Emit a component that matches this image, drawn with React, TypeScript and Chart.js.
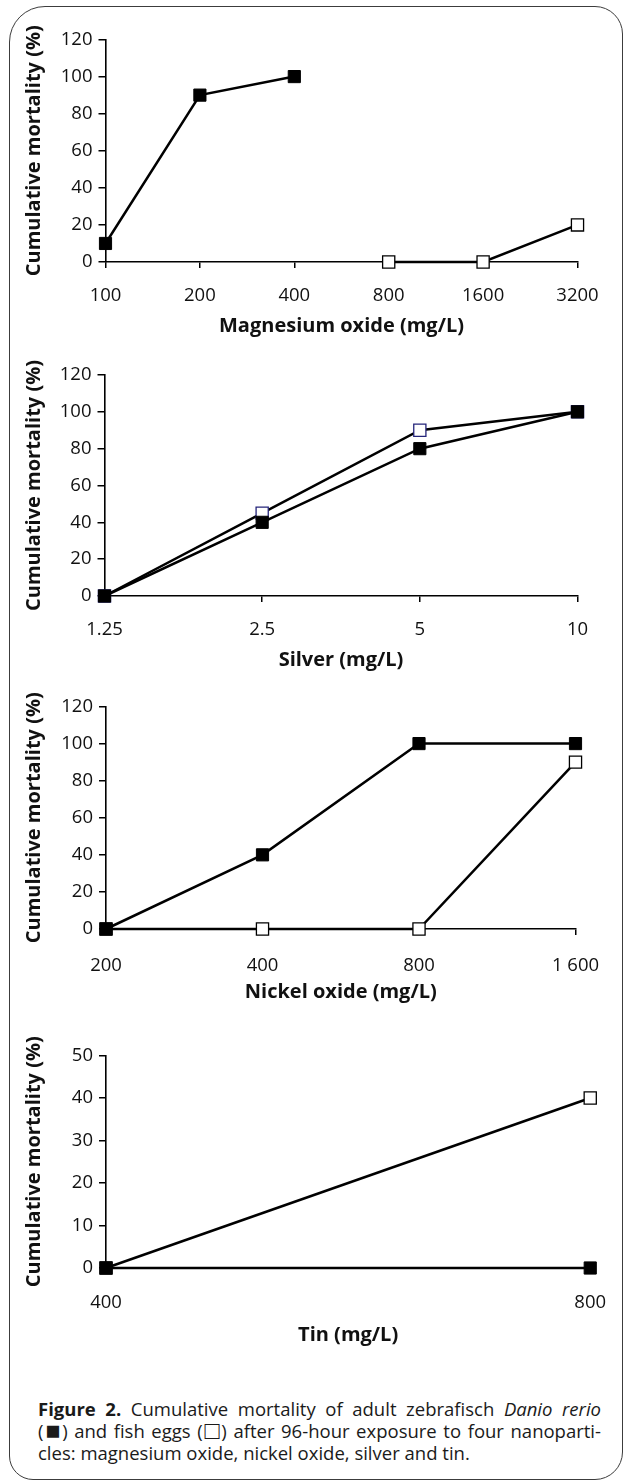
import React, { useEffect, useRef } from 'react';
import { Chart, registerables } from 'chart.js';

Chart.register(...registerables);

// ---------- data ----------
const mgLabels = ['100', '200', '400', '800', '1600', '3200'];
const mgAdults = [10, 90, 100, null, null, null];
const mgEggs = [null, null, null, 0, 0, 20];

const agLabels = ['1.25', '2.5', '5', '10'];
const agAdults = [0, 40, 80, 100];
const agEggs = [0, 45, 90, 100];

const niLabels = ['200', '400', '800', '1 600'];
const niAdults = [0, 40, 100, 100];
const niEggs = [0, 0, 0, 90];

const snLabels = ['400', '800'];
const snAdults = [0, 0];
const snEggs = [0, 40];

const yTicksMortality = [0, 20, 40, 60, 80, 100, 120];
const yTicksTin = [0, 10, 20, 30, 40, 50];

const FONT = "'Open Sans', sans-serif";
const INK = '#111';

type PanelProps = {
  labels: string[];
  adults: (number | null)[];
  eggs: (number | null)[];
  yTicks: number[];
  xTitle: string;
  canvasTop: number;
  top: number;
  bottom: number;
  left: number;
  right: number;
  labelOffset: number;
  titleOffset: number;
  eggBorder: string;
};

const AXIS_H = 80;
const TICK_SIZE = 18.5;
const TITLE_SIZE = 20;

function Panel(p: PanelProps) {
  const ref = useRef<HTMLCanvasElement>(null);
  const height = Math.round(p.bottom - p.canvasTop + AXIS_H);
  useEffect(() => {
    const canvas = ref.current!;
    const yMax = p.yTicks[p.yTicks.length - 1];
    const yStep = p.yTicks[1] - p.yTicks[0];
    const chart = new Chart(canvas, {
      type: 'line',
      data: {
        labels: p.labels,
        datasets: [
          {
            data: p.adults,
            borderColor: '#000',
            borderWidth: 2.5,
            pointStyle: 'rect',
            pointRadius: 8.6,
            pointBackgroundColor: '#000',
            pointBorderColor: '#000',
            pointBorderWidth: 1,
            clip: false,
            spanGaps: false,
          } as any,
          {
            data: p.eggs,
            borderColor: '#000',
            borderWidth: 2.5,
            pointStyle: 'rect',
            pointRadius: 8.6,
            pointBackgroundColor: '#fff',
            pointBorderColor: p.eggBorder,
            pointBorderWidth: 1.3,
            clip: false,
            spanGaps: false,
          } as any,
        ],
      },
      options: {
        animation: false,
        responsive: false,
        maintainAspectRatio: false,
        layout: {
          padding: { top: p.top - p.canvasTop, left: 0, right: 624 - p.right, bottom: 0 },
        },
        plugins: { legend: { display: false }, tooltip: { enabled: false } },
        scales: {
          x: {
            type: 'category',
            offset: false,
            grid: { drawOnChartArea: false, drawTicks: true, tickLength: 6, color: '#000', lineWidth: 1.5 },
            border: { display: true, color: '#000', width: 1.6 },
            ticks: {
              color: INK,
              font: { family: FONT, size: TICK_SIZE },
              padding: p.labelOffset - 6 - (TICK_SIZE * 1.2) / 2,
              autoSkip: false,
              maxRotation: 0,
            },
            title: {
              display: true,
              text: p.xTitle,
              color: INK,
              font: { family: FONT, size: TITLE_SIZE, weight: 'bold' },
              padding: { top: 0, bottom: AXIS_H - p.titleOffset - (TITLE_SIZE * 1.2) / 2 },
            },
            afterFit: (s: any) => {
              s.height = AXIS_H;
            },
          },
          y: {
            min: 0,
            max: yMax,
            grid: { drawOnChartArea: false, drawTicks: true, tickLength: 7, color: '#000', lineWidth: 1.5 },
            border: { display: true, color: '#000', width: 1.6 },
            ticks: {
              stepSize: yStep,
              color: INK,
              font: { family: FONT, size: TICK_SIZE },
              padding: 6,
            },
            title: {
              display: true,
              text: 'Cumulative mortality (%)',
              color: INK,
              font: { family: FONT, size: TITLE_SIZE, weight: 'bold' },
              padding: { top: 34 - (TITLE_SIZE * 1.2) / 2, bottom: 0 },
            },
            afterFit: (s: any) => {
              s.width = p.left;
            },
          },
        },
      } as any,
    });
    return () => chart.destroy();
  }, []);
  return (
    <canvas
      ref={ref}
      width={624}
      height={height}
      style={{ position: 'absolute', left: 0, top: p.canvasTop, width: 624, height }}
    />
  );
}

const captionLine: React.CSSProperties = {
  position: 'absolute',
  left: 38,
  width: 563,
  fontFamily: FONT,
  fontSize: 18.5,
  lineHeight: '22px',
  color: '#1a1a1a',
  whiteSpace: 'nowrap',
};

const glyph: React.CSSProperties = {
  fontFamily: "'Liberation Sans', 'DejaVu Sans', sans-serif",
  fontSize: '1.35em',
  lineHeight: '1px',
  verticalAlign: '-1px',
};

export default function App() {
  return (
    <div style={{ position: 'absolute', left: 0, top: 0, width: 624, height: 1482, background: '#fff' }}>
      <div
        style={{
          position: 'absolute',
          left: 9,
          top: 6,
          width: 614,
          height: 1474,
          boxSizing: 'border-box',
          border: '1.5px solid #3c3c3c',
          borderRadius: '36px 28px 28px 24px',
        }}
      />
      <Panel
        labels={mgLabels}
        adults={mgAdults}
        eggs={mgEggs}
        yTicks={yTicksMortality}
        xTitle="Magnesium oxide (mg/L)"
        canvasTop={0}
        top={39.5}
        bottom={261.5}
        left={105.5}
        right={577.5}
        labelOffset={34}
        titleOffset={64}
        eggBorder="#000"
      />
      <Panel
        labels={agLabels}
        adults={agAdults}
        eggs={agEggs}
        yTicks={yTicksMortality}
        xTitle="Silver (mg/L)"
        canvasTop={345}
        top={375}
        bottom={596}
        left={104.5}
        right={577.5}
        labelOffset={34}
        titleOffset={64}
        eggBorder="#24247a"
      />
      <Panel
        labels={niLabels}
        adults={niAdults}
        eggs={niEggs}
        yTicks={yTicksMortality}
        xTitle="Nickel oxide (mg/L)"
        canvasTop={680}
        top={706.5}
        bottom={928.5}
        left={106}
        right={575.5}
        labelOffset={37}
        titleOffset={63}
        eggBorder="#000"
      />
      <Panel
        labels={snLabels}
        adults={snAdults}
        eggs={snEggs}
        yTicks={yTicksTin}
        xTitle="Tin (mg/L)"
        canvasTop={1015}
        top={1055.5}
        bottom={1267.5}
        left={106}
        right={592}
        labelOffset={35}
        titleOffset={67}
        eggBorder="#000"
      />
      <div style={{ ...captionLine, top: 1398, textAlign: 'justify', textAlignLast: 'justify' }}>
        <b>Figure 2.</b> Cumulative mortality of adult zebrafisch <i>Danio rerio</i>
      </div>
      <div style={{ ...captionLine, top: 1420, textAlign: 'justify', textAlignLast: 'justify' }}>
        (<span style={glyph}>■</span>) and fish eggs (<span style={glyph}>□</span>) after 96-hour exposure to four nanoparti-
      </div>
      <div style={{ ...captionLine, top: 1442 }}>
        cles: magnesium oxide, nickel oxide, silver and tin.
      </div>
    </div>
  );
}
